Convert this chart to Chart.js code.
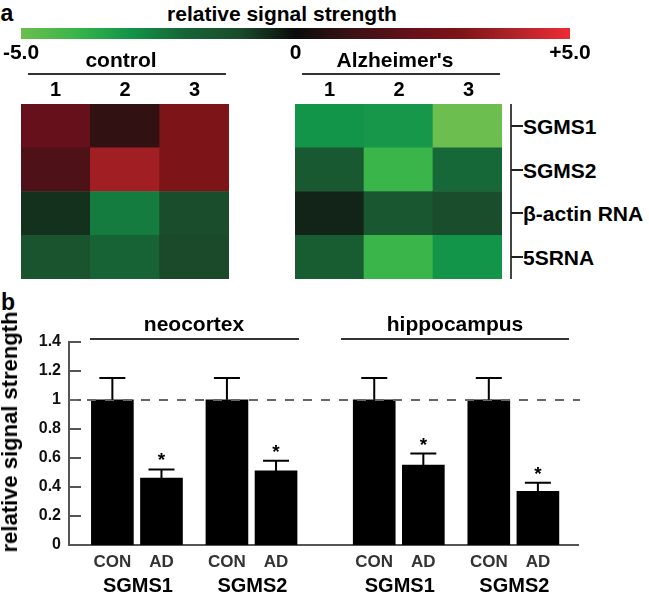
<!DOCTYPE html>
<html>
<head>
<meta charset="utf-8">
<script src="https://cdn.jsdelivr.net/npm/chart.js@4.4.1/dist/chart.umd.min.js"></script>
<style>
  body { margin: 0; width: 649px; height: 596px; position: relative; background: #fff; overflow: hidden;
         font-family: "Liberation Sans", Arial, sans-serif; font-weight: bold; color: #000; }
  .t { position: absolute; white-space: nowrap; line-height: 1; transform: translate(-50%, -50%); }
  .l { position: absolute; white-space: nowrap; line-height: 1; transform: translateY(-50%); }
  .ln { position: absolute; background: #333; }
  canvas { position: absolute; }
</style>
</head>
<body>
<canvas id="scaleBar" width="649" height="42" style="left:0;top:28px"></canvas>
<canvas id="heatControl" width="208" height="175" style="left:21px;top:104px"></canvas>
<canvas id="heatAD" width="207" height="175" style="left:295px;top:104px"></canvas>
<canvas id="bars" width="649" height="276" style="left:0;top:320px"></canvas>
<div id="labels"></div>

<script>
// --- panel a: heatmap ---
const sampleLabels = ["1", "2", "3"]
const rowLabels = ["SGMS1", "SGMS2", "β-actin RNA", "5SRNA"]
const groupLabels = ["control", "Alzheimer's"]
// rows in the order of rowLabels, columns = samples 1..3
const controlValues = [
  [2.1, 0.8, 3.0],
  [1.5, 3.7, 3.0],
  [-0.6, -2.5, -1.1],
  [-1.4, -2.0, -1.0],
]
const alzheimerValues = [
  [-3.0, -3.1, -5.0],
  [-1.6, -4.0, -2.1],
  [-0.4, -1.5, -1.1],
  [-1.7, -4.0, -3.0],
]
const scaleTicks = [-5, 0, 5]
const scaleTickLabels = ["-5.0", "0", "+5.0"]

// --- panel b: bars ---
const tissues = ["neocortex", "hippocampus"]
const genes = ["SGMS1", "SGMS2", "SGMS1", "SGMS2"]
const conditions = ["CON", "AD"]
const conMeans = [1, 1, 1, 1]
const conErrors = [0.15, 0.15, 0.15, 0.15]
const adMeans = [0.46, 0.51, 0.55, 0.37]
const adErrors = [0.06, 0.07, 0.08, 0.058]
const adSignificant = [true, true, true, true]
const yTicks = [0, 0.2, 0.4, 0.6, 0.8, 1, 1.2, 1.4]

// colour scale (green - black - red)
const stopValues = [-5, -4, -3, -2, -1, 0, 1, 2, 3, 4, 5]
const stopColors = ["#6cbe4e", "#3ab54a", "#129449", "#176336", "#1a4a2a", "#0b0b0b",
                    "#3a1214", "#62101a", "#7d1418", "#b02428", "#ee2a36"]

function hexToRgb(h) {
  return [1, 3, 5].map((i) => parseInt(h.substr(i, 2), 16))
}
function valueToColor(v) {
  for (let i = 0; i < stopValues.length - 1; i++) {
    if (v <= stopValues[i + 1]) {
      const t = (v - stopValues[i]) / (stopValues[i + 1] - stopValues[i])
      const a = hexToRgb(stopColors[i]), b = hexToRgb(stopColors[i + 1])
      const c = a.map((x, k) => Math.round(x + (b[k] - x) * t))
      return `rgb(${c[0]},${c[1]},${c[2]})`
    }
  }
  return stopColors[stopColors.length - 1]
}

Chart.defaults.font.family = '"Liberation Sans", Arial, sans-serif'
Chart.defaults.font.weight = "bold"
Chart.defaults.color = "#000"

const noLegend = { legend: { display: false }, tooltip: { enabled: false } }

// colour bar
new Chart(document.getElementById("scaleBar"), {
  type: "bar",
  data: {
    labels: [""],
    datasets: [{
      data: [[scaleTicks[0], scaleTicks[scaleTicks.length - 1]]],
      backgroundColor: (ctx) => {
        const chart = ctx.chart
        if (!chart.chartArea) return "#000"
        const x = chart.scales.x
        const g = chart.ctx.createLinearGradient(x.getPixelForValue(-5), 0, x.getPixelForValue(5), 0)
        stopValues.forEach((v, i) => g.addColorStop((v + 5) / 10, stopColors[i]))
        return g
      },
      borderWidth: 0,
      barPercentage: 1,
      categoryPercentage: 1,
    }],
  },
  options: {
    indexAxis: "y",
    animation: false,
    responsive: false,
    devicePixelRatio: 1,
    layout: { padding: { left: 21, right: 79, top: 0, bottom: 0 } },
    plugins: noLegend,
    scales: {
      y: { display: false },
      x: {
        type: "linear", min: -5, max: 5,
        grid: { display: false, drawTicks: false },
        border: { display: false },
        afterBuildTicks: (s) => { s.ticks = scaleTicks.map((v) => ({ value: v })) },
        afterFit: (s) => { s.height = 31 },
        ticks: {
          padding: 2,
          font: { size: 21, weight: "bold" },
          callback: (v) => scaleTickLabels[scaleTicks.indexOf(v)],
        },
      },
    },
  },
})

function heatmap(id, values) {
  new Chart(document.getElementById(id), {
    type: "bar",
    data: {
      labels: sampleLabels,
      datasets: rowLabels.map((row, r) => ({
        label: row,
        data: sampleLabels.map(() => 1),
        backgroundColor: values[r].map(valueToColor),
        borderWidth: 0,
        barPercentage: 1,
        categoryPercentage: 1,
      })).reverse(),
    },
    options: {
      animation: false,
      responsive: false,
      devicePixelRatio: 1,
      plugins: noLegend,
      scales: {
        x: { display: false, stacked: true },
        y: { display: false, stacked: true, min: 0, max: rowLabels.length },
      },
    },
  })
}
heatmap("heatControl", controlValues)
heatmap("heatAD", alzheimerValues)

// bar positions in x units: tissue gap 16, gene gap 7, condition gap 3
const groupX = genes.map((g, i) => Math.floor(i / 2) * 16 + (i % 2) * 7)
const barX = []
groupX.forEach((x) => { barX.push(x, x + 3) })

const barExtras = {
  id: "barExtras",
  afterDatasetsDraw(chart) {
    const { ctx, chartArea, scales } = chart
    const y = scales.y, x = scales.x
    ctx.save()
    // inward tick marks
    ctx.strokeStyle = "#555"
    ctx.lineWidth = 2
    yTicks.forEach((v) => {
      const py = Math.round(y.getPixelForValue(v))
      ctx.beginPath()
      ctx.moveTo(chartArea.left, py)
      ctx.lineTo(chartArea.left + 12, py)
      ctx.stroke()
    })
    // dashed reference line at 1
    ctx.strokeStyle = "#666"
    ctx.setLineDash([9, 9])
    const p1 = Math.round(y.getPixelForValue(1))
    ctx.beginPath()
    ctx.moveTo(chartArea.left, p1)
    ctx.lineTo(chartArea.right + 2, p1)
    ctx.stroke()
    ctx.setLineDash([])
    // error bars
    ctx.strokeStyle = "#000"
    const sets = [[conMeans, conErrors], [adMeans, adErrors]]
    sets.forEach(([means, errs], d) => {
      const meta = chart.getDatasetMeta(d)
      means.forEach((m, i) => {
        const bx = meta.data[i].x
        const top = y.getPixelForValue(m + errs[i])
        const base = y.getPixelForValue(m)
        ctx.beginPath()
        ctx.moveTo(bx, base)
        ctx.lineTo(bx, top)
        ctx.moveTo(bx - 13, top)
        ctx.lineTo(bx + 13, top)
        ctx.stroke()
        if (d === 1 && adSignificant[i]) {
          ctx.fillStyle = "#000"
          ctx.font = 'bold 19px "Liberation Sans", Arial'
          ctx.textAlign = "center"
          ctx.textBaseline = "alphabetic"
          ctx.fillText("*", bx, top - 3)
        }
      })
    })
    // gene labels under each CON/AD pair
    ctx.fillStyle = "#000"
    ctx.font = 'bold 20px "Liberation Sans", Arial'
    ctx.textAlign = "center"
    ctx.textBaseline = "middle"
    genes.forEach((g, i) => {
      const cx = (x.getPixelForValue(groupX[i]) + x.getPixelForValue(groupX[i] + 3)) / 2
      ctx.fillText(g, cx + 1, 586 - 320)
    })
    ctx.restore()
  },
}

new Chart(document.getElementById("bars"), {
  type: "bar",
  data: {
    datasets: [
      { label: conditions[0], data: conMeans.map((m, i) => ({ x: groupX[i], y: m })),
        backgroundColor: "#000", borderWidth: 0 },
      { label: conditions[1], data: adMeans.map((m, i) => ({ x: groupX[i] + 3, y: m })),
        backgroundColor: "#000", borderWidth: 0 },
    ],
  },
  options: {
    animation: false,
    responsive: false,
    devicePixelRatio: 1,
    layout: { padding: { left: 0, right: 71, top: 21.7, bottom: 0 } },
    plugins: noLegend,
    datasets: { bar: { grouped: false, barThickness: 42 } },
    scales: {
      x: {
        type: "linear", min: -2.65, max: 28.45, offset: false,
        grid: { display: false, drawTicks: false },
        border: { color: "#555", width: 2 },
        afterBuildTicks: (s) => { s.ticks = barX.map((v) => ({ value: v })) },
        afterFit: (s) => { s.height = 51; s.paddingLeft = 0; s.paddingRight = 0 },
        ticks: {
          padding: 7,
          color: "#333",
          font: { size: 17, weight: "bold" },
          callback: (v) => conditions[barX.indexOf(v) % 2],
        },
      },
      y: {
        min: 0, max: 1.4,
        grid: { display: false, drawTicks: false },
        border: { color: "#555", width: 2 },
        afterBuildTicks: (s) => { s.ticks = yTicks.map((v) => ({ value: v })) },
        afterFit: (s) => { s.width = 69 },
        ticks: {
          padding: 8,
          color: "#111",
          font: { size: 16, weight: "bold" },
          callback: (v) => String(Number(v.toFixed(1))),
        },
      },
    },
  },
  plugins: [barExtras],
})

// --- text and decoration ---
const labels = document.getElementById("labels")
function addText(cls, text, x, y, size, extra) {
  const d = document.createElement("div")
  d.className = cls
  d.textContent = text
  d.style.left = x + "px"
  d.style.top = y + "px"
  d.style.fontSize = size + "px"
  if (extra) Object.assign(d.style, extra)
  labels.appendChild(d)
}
function addLine(x, y, w, h, color) {
  const d = document.createElement("div")
  d.className = "ln"
  Object.assign(d.style, { left: x + "px", top: y + "px", width: w + "px", height: h + "px" })
  if (color) d.style.background = color
  labels.appendChild(d)
}

addText("t", "a", 7, 13, 23)
addText("t", "relative signal strength", 282, 13, 21)

const heatLefts = [21, 295]
groupLabels.forEach((g, gi) => {
  const left = heatLefts[gi]
  addText("t", g, left + 100, 59, 21)
  addLine(left + 7, 73, 198, 1.5)
  sampleLabels.forEach((s, i) => addText("t", s, left + 34.5 + i * 69.5, 89, 20))
})

addLine(510, 104, 2, 175, "#444")
rowLabels.forEach((r, i) => {
  const cy = 104 + (i + 0.5) * 43.7
  addLine(511, cy - 1, 12, 2, "#222")
  addText("l", r, 523, cy, 21)
})

addText("t", "b", 8, 302, 23)
addText("t", tissues[0], 194, 323, 21)
addLine(90, 338, 209, 1.5)
addText("t", tissues[1], 455, 323, 21)
addLine(341, 338, 228, 1.5)
addText("t", "relative signal strength", 10, 432, 22, { transform: "translate(-50%, -50%) rotate(-90deg)" })
</script>
</body>
</html>
